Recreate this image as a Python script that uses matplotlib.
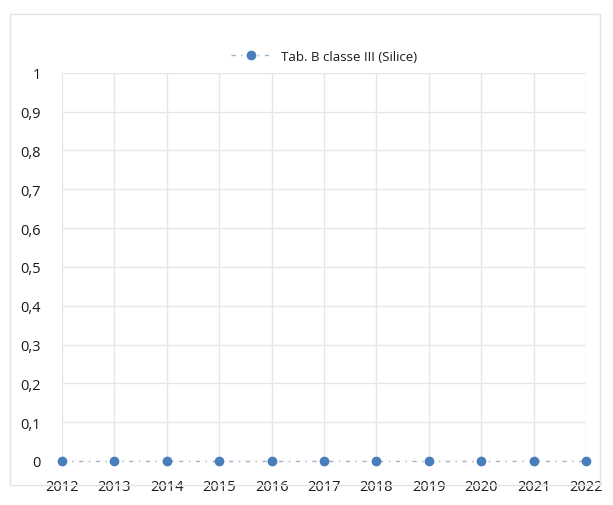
import numpy as np
import matplotlib
matplotlib.use('Agg')
from matplotlib import pyplot as plt
from matplotlib.patches import Rectangle

years = [2012, 2013, 2014, 2015, 2016, 2017, 2018, 2019, 2020, 2021, 2022]
values = [0, 0, 0, 0, 0, 0, 0, 0, 0, 0, 0]
yticks = [0, 0.1, 0.2, 0.3, 0.4, 0.5, 0.6, 0.7, 0.8, 0.9, 1]
ytick_labels = ['0', '0,1', '0,2', '0,3', '0,4', '0,5', '0,6', '0,7', '0,8', '0,9', '1']
series_name = 'Tab. B classe III (Silice)'

plt.rcParams['font.family'] = ['Open Sans', 'DejaVu Sans']

fig = plt.figure('chart', figsize=(6.13, 5.06), dpi=100)
plt.subplots_adjust(left=0.101, right=0.956, top=0.854, bottom=0.087)
ax = fig.add_subplot(111)

# faint outer frame
fig.patches.append(Rectangle((0.016, 0.04), 0.963, 0.93, transform=fig.transFigure,
                             fill=False, edgecolor='#e4e4e4', lw=1.0))

ax.plot(years, values, linestyle=(0, (3, 4, 1, 4)), color='#9fb4cf', lw=1,
        marker='o', ms=6, mfc='#4a7ebb', mec='#4a7ebb', label=series_name, clip_on=False, zorder=3)

ax.set_xlim(2012, 2022)
ax.set_ylim(0, 1)
ax.set_xticks(years)
ax.set_xticklabels([str(y) for y in years])
ax.set_yticks(yticks)
ax.set_yticklabels(ytick_labels)
ax.grid(True, color='#e6e6e6', lw=1)
ax.set_axisbelow(True)
for axis in ['top', 'bottom', 'left', 'right']:
    ax.spines[axis].set_visible(False)
ax.tick_params(length=0, labelsize=10.5, colors='#1a1a1a')
ax.tick_params(axis='x', pad=13)
ax.tick_params(axis='y', pad=15)

ax.legend(loc='lower center', bbox_to_anchor=(0.5, 0.995), frameon=False, fontsize=9.5,
          handlelength=3, labelcolor='#1a1a1a')

fig.savefig('out.png', dpi=100)
